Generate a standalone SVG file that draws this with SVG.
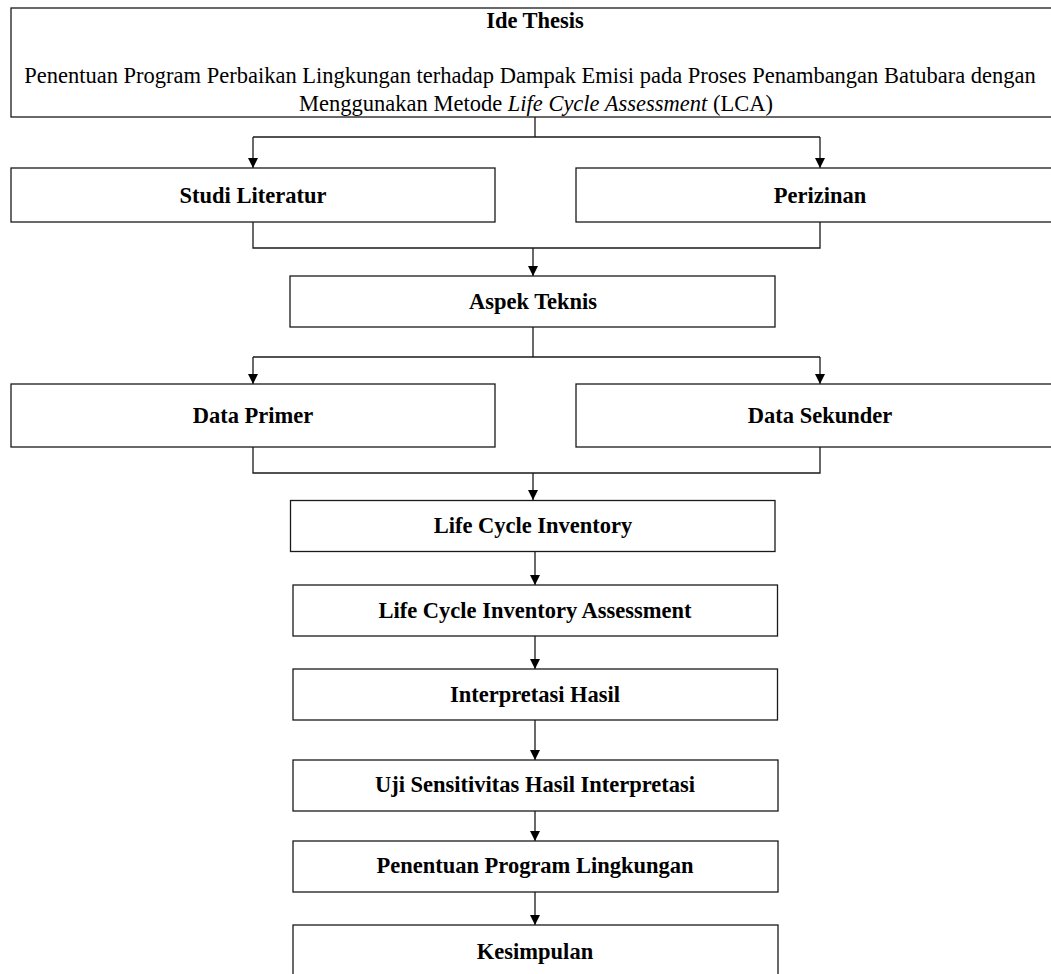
<svg xmlns="http://www.w3.org/2000/svg" width="1051" height="974" viewBox="0 0 1051 974">
<defs>
<style>
.box{fill:#fff;stroke:#1a1a1a;stroke-width:1.3}
.lbl{font-family:"Liberation Serif","Times New Roman",serif;font-size:22.5px;font-weight:bold;fill:#000;text-anchor:middle}
.txt{font-family:"Liberation Serif","Times New Roman",serif;font-size:22.5px;fill:#000}
.con{fill:none;stroke:#1a1a1a;stroke-width:1.3}
</style>
<marker id="arr" viewBox="0 0 10 10" refX="10" refY="5" markerWidth="10" markerHeight="10" orient="auto" markerUnits="userSpaceOnUse">
<path d="M0,0 L10,5 L0,10 z" fill="#000"/>
</marker>
</defs>
<rect width="1051" height="974" fill="#fff"/>
<g id="connectors">
<path class="con" d="M535,117 V137 M253,137 H820"/>
<path class="con" d="M253,137 V168" marker-end="url(#arr)"/>
<path class="con" d="M820,137 V168" marker-end="url(#arr)"/>
<path class="con" d="M253,222 V248 H820 V222"/>
<path class="con" d="M533,248 V276" marker-end="url(#arr)"/>
<path class="con" d="M533,327 V357 M253,357 H820"/>
<path class="con" d="M253,357 V384" marker-end="url(#arr)"/>
<path class="con" d="M820,357 V384" marker-end="url(#arr)"/>
<path class="con" d="M253,447 V473 H820 V447"/>
<path class="con" d="M533,473 V500" marker-end="url(#arr)"/>
<path class="con" d="M535,551 V585" marker-end="url(#arr)"/>
<path class="con" d="M535,636 V669" marker-end="url(#arr)"/>
<path class="con" d="M535,720 V760" marker-end="url(#arr)"/>
<path class="con" d="M535,811 V841" marker-end="url(#arr)"/>
<path class="con" d="M535,892 V925" marker-end="url(#arr)"/>
</g>
<g id="ide-thesis">
<rect class="box" x="11" y="8" width="1060" height="109"/>
<text class="lbl" x="535" y="28">Ide Thesis</text>
<text class="txt" x="530" y="83" text-anchor="middle">Penentuan Program Perbaikan Lingkungan terhadap Dampak Emisi pada Proses Penambangan Batubara dengan</text>
<text class="txt" x="536" y="111" text-anchor="middle">Menggunakan Metode <tspan font-style="italic">Life Cycle Assessment</tspan> (LCA)</text>
</g>
<g id="studi-literatur">
<rect class="box" x="11" y="168" width="484" height="54"/>
<text class="lbl" x="253" y="203">Studi Literatur</text>
</g>
<g id="perizinan">
<rect class="box" x="576" y="168" width="495" height="54"/>
<text class="lbl" x="820" y="203">Perizinan</text>
</g>
<g id="aspek-teknis">
<rect class="box" x="290" y="276" width="485" height="51"/>
<text class="lbl" x="533" y="309">Aspek Teknis</text>
</g>
<g id="data-primer">
<rect class="box" x="11" y="384" width="484" height="63"/>
<text class="lbl" x="253" y="423">Data Primer</text>
</g>
<g id="data-sekunder">
<rect class="box" x="576" y="384" width="495" height="63"/>
<text class="lbl" x="820" y="423">Data Sekunder</text>
</g>
<g id="life-cycle-inventory">
<rect class="box" x="290.5" y="500.5" width="484.5" height="51"/>
<text class="lbl" x="533" y="533">Life Cycle Inventory</text>
</g>
<g id="lcia">
<rect class="box" x="293" y="585" width="484.5" height="51"/>
<text class="lbl" x="535" y="618">Life Cycle Inventory Assessment</text>
</g>
<g id="interpretasi-hasil">
<rect class="box" x="293" y="669" width="484.5" height="51"/>
<text class="lbl" x="535" y="702">Interpretasi Hasil</text>
</g>
<g id="uji-sensitivitas">
<rect class="box" x="293" y="760" width="485" height="51"/>
<text class="lbl" x="535" y="792">Uji Sensitivitas Hasil Interpretasi</text>
</g>
<g id="penentuan-program">
<rect class="box" x="293" y="841" width="485" height="51"/>
<text class="lbl" x="535" y="873">Penentuan Program Lingkungan</text>
</g>
<g id="kesimpulan">
<rect class="box" x="293" y="925" width="485" height="60"/>
<text class="lbl" x="535" y="959">Kesimpulan</text>
</g>
</svg>
